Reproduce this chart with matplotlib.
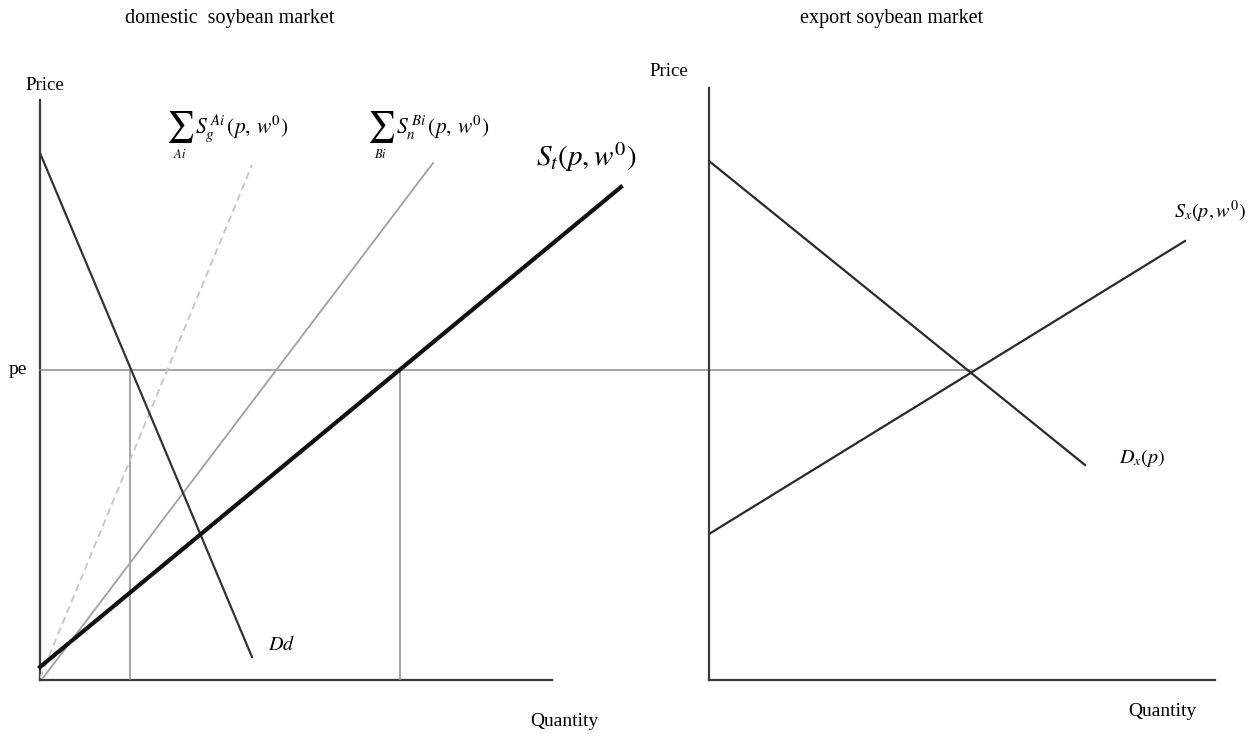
import matplotlib.pyplot as plt

plt.rcParams['font.family'] = ['Liberation Serif', 'DejaVu Serif']
plt.rcParams['mathtext.fontset'] = 'stix'

# domestic market (quantity, price) in diagram units
dom_axis_q = [0, 512]
dom_axis_p = [0, 580]
dd_q = [0, 212]
dd_p = [527, 23]
sum_a_q = [0, 212]
sum_a_p = [2, 515]
sum_b_q = [3, 393]
sum_b_p = [2, 517]
st_q = [0, 581]
st_p = [13, 493]
pe = 310
q_dd = 90
q_st = 360

# export market
exp_axis_q = [0, 506]
exp_axis_p = [0, 592]
dx_q = [0, 376]
dx_p = [519, 215]
sx_q = [0, 476]
sx_p = [146, 439]
pe_q_export = 263

W, H = 1258, 736
fig = plt.figure(figsize=(W / 100, H / 100), dpi=100)

axl = fig.add_axes([40 / W, 56 / H, 600 / W, 640 / H])
axl.set_xlim(0, 600)
axl.set_ylim(0, 640)
axl.axis('off')

axr = fig.add_axes([709 / W, 56 / H, 549 / W, 640 / H])
axr.set_xlim(0, 549)
axr.set_ylim(0, 640)
axr.axis('off')

axis_c = '#3a3a3a'
guide_c = '#8c8c8c'

# left panel
axl.plot([0, 0], dom_axis_p, color=axis_c, lw=1.6, clip_on=False)
axl.plot(dom_axis_q, [0, 0], color=axis_c, lw=1.6, clip_on=False)
# pe line, continued across into the export market
axl.plot([0, 669 + pe_q_export], [pe, pe], color=guide_c, lw=1.1, clip_on=False)
axl.plot([q_dd, q_dd], [0, pe], color=guide_c, lw=1.1)
axl.plot([q_st, q_st], [0, pe], color=guide_c, lw=1.1)
axl.plot(sum_a_q, sum_a_p, color='#c4c4c4', lw=1.3, ls=(0, (4, 2.5)))
axl.plot(sum_b_q, sum_b_p, color='#a0a0a0', lw=1.3)
axl.plot(dd_q, dd_p, color='#333333', lw=1.6)
axl.plot(st_q, st_p, color='#111111', lw=3.0, clip_on=False)

axl.text(5, 594, 'Price', fontsize=13.5, ha='center', va='center')
axl.text(-22, pe, 'pe', fontsize=14, ha='center', va='center')
axl.text(242, 34, r'$Dd$', fontsize=14.5, ha='center', va='center')

# summation labels: big sigma, index below, then the supply term
for sx, idx, term in [(140, 'Ai', r'$S_g^{\,Ai}\,(p,\, w^0)$'),
                      (341, 'Bi', r'$S_n^{\,Bi}\,(p,\, w^0)$')]:
    axl.text(sx, 553, r'$\sum$', fontsize=22, ha='center', va='center')
    axl.text(sx, 525, r'$%s$' % idx, fontsize=9, ha='center', va='center')
    axl.text(sx + 15, 552, term, fontsize=15.5, ha='left', va='center')

axl.text(546, 523, r'$S_t(p, w^0)$', fontsize=21, ha='center', va='center')
axl.text(524, -42, 'Quantity', fontsize=14, ha='center', va='center')

# right panel
axr.plot([0, 0], exp_axis_p, color=axis_c, lw=1.6, clip_on=False)
axr.plot(exp_axis_q, [0, 0], color=axis_c, lw=1.6, clip_on=False)
axr.plot(dx_q, dx_p, color='#2a2a2a', lw=1.6)
axr.plot(sx_q, sx_p, color='#2a2a2a', lw=1.6)

axr.text(-40, 608, 'Price', fontsize=13.5, ha='center', va='center')
axr.text(433, 222, r'$D_x(p)$', fontsize=14.5, ha='center', va='center')
axr.text(501, 468, r'$S_x(p, w^0)$', fontsize=14.5, ha='center', va='center')
axr.text(453, -32, 'Quantity', fontsize=14, ha='center', va='center')

fig.text(230 / W, 1 - 18 / H, 'domestic  soybean market', fontsize=14.5, ha='center', va='center')
fig.text(892 / W, 1 - 18 / H, 'export soybean market', fontsize=14.5, ha='center', va='center')

fig.savefig('out.png', dpi=100)
